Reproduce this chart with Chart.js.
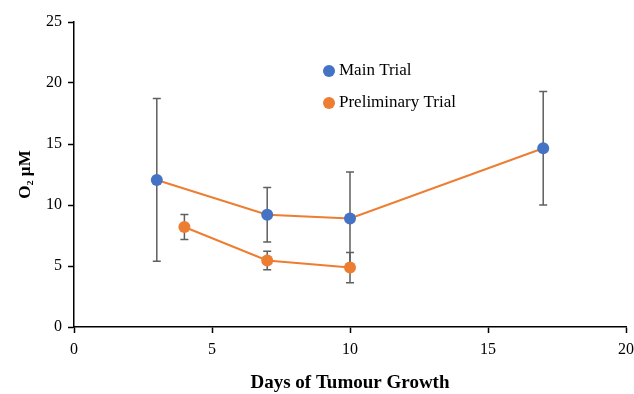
<!DOCTYPE html>
<html>
<head>
<meta charset="utf-8">
<script src="https://cdn.jsdelivr.net/npm/chart.js@4"></script>
<style>
  html, body { margin: 0; padding: 0; background: #fff; }
  #wrap { width: 634px; height: 394px; }
</style>
</head>
<body>
<div id="wrap"><canvas id="myChart" width="634" height="394"></canvas></div>
<script>
// data
var mainDays = [3, 7, 10, 17];
var mainO2 = [12.05, 9.2, 8.9, 14.65];
var mainErr = [6.67, 2.24, 3.8, 4.65];

var prelimDays = [4, 7, 10];
var prelimO2 = [8.2, 5.45, 4.87];
var prelimErr = [1.02, 0.75, 1.24];

var xTicks = [0, 5, 10, 15, 20];
var yTicks = [0, 5, 10, 15, 20, 25];

var blue = '#4472C4';
var orange = '#ED7D31';
var serif = "'Liberation Serif', 'Times New Roman', serif";

function pts(xs, ys) {
    return xs.map(function (x, i) { return { x: x, y: ys[i] }; });
}

// error bars, drawn under the markers
var errorBars = {
    id: 'errorBars',
    beforeDatasetsDraw: function (chart) {
        var ctx = chart.ctx;
        var xs = chart.scales.x, ys = chart.scales.y;
        var sets = [[mainDays, mainO2, mainErr], [prelimDays, prelimO2, prelimErr]];
        ctx.save();
        ctx.strokeStyle = '#5f5f5f';
        ctx.lineWidth = 1.5;
        sets.forEach(function (s) {
            s[0].forEach(function (d, i) {
                var px = xs.getPixelForValue(d);
                var top = ys.getPixelForValue(s[1][i] + s[2][i]);
                var bot = ys.getPixelForValue(s[1][i] - s[2][i]);
                ctx.beginPath();
                ctx.moveTo(px, top); ctx.lineTo(px, bot);
                ctx.moveTo(px - 4, top); ctx.lineTo(px + 4, top);
                ctx.moveTo(px - 4, bot); ctx.lineTo(px + 4, bot);
                ctx.stroke();
            });
        });
        ctx.restore();
    }
};

// legend placed inside the plot like the original
var floatLegend = {
    id: 'floatLegend',
    afterDraw: function (chart) {
        var ctx = chart.ctx;
        var items = [['Main Trial', blue, 71], ['Preliminary Trial', orange, 103]];
        ctx.save();
        ctx.font = '17px ' + serif;
        ctx.textBaseline = 'middle';
        items.forEach(function (it) {
            ctx.fillStyle = it[1];
            ctx.beginPath();
            ctx.arc(329, it[2], 6, 0, Math.PI * 2);
            ctx.fill();
            ctx.fillStyle = '#000';
            ctx.fillText(it[0], 339, it[2]);
        });
        ctx.restore();
    }
};

var ctx = document.getElementById('myChart').getContext('2d');
var chart = new Chart(ctx, {
    type: 'scatter',
    data: {
        datasets: [{
            label: 'Main Trial',
            data: pts(mainDays, mainO2),
            showLine: true,
            borderColor: orange,
            borderWidth: 2,
            pointBackgroundColor: blue,
            pointBorderColor: blue,
            pointRadius: 6,
            pointBorderWidth: 0
        }, {
            label: 'Preliminary Trial',
            data: pts(prelimDays, prelimO2),
            showLine: true,
            borderColor: orange,
            borderWidth: 2,
            pointBackgroundColor: orange,
            pointBorderColor: orange,
            pointRadius: 6,
            pointBorderWidth: 0
        }]
    },
    options: {
        responsive: false,
        animation: false,
        layout: { padding: { left: 0, top: 22, right: 8, bottom: 0 } },
        plugins: { legend: { display: false }, tooltip: { enabled: false } },
        scales: {
            x: {
                type: 'linear', min: 0, max: 20,
                afterBuildTicks: function (s) { s.ticks = xTicks.map(function (v) { return { value: v }; }); },
                afterFit: function (s) { s.height = 67; s.paddingRight = 0; s.paddingLeft = 0; },
                grid: { drawOnChartArea: false, tickLength: 6, color: '#000', tickWidth: 1.5 },
                border: { color: '#000', width: 1.5 },
                ticks: { color: '#000', font: { family: serif, size: 16 }, padding: 7, maxRotation: 0 },
                title: {
                    display: true, text: 'Days of Tumour Growth', color: '#000',
                    font: { family: serif, size: 19, weight: 'bold' },
                    padding: { top: 0, bottom: 0 }
                }
            },
            y: {
                type: 'linear', min: 0, max: 25,
                afterBuildTicks: function (s) { s.ticks = yTicks.map(function (v) { return { value: v }; }); },
                afterFit: function (s) { s.width = 74; s.paddingTop = 0; s.paddingBottom = 0; },
                grid: { drawOnChartArea: false, tickLength: 6, color: '#000', tickWidth: 1.5 },
                border: { color: '#000', width: 1.5 },
                ticks: { color: '#000', font: { family: serif, size: 16 }, padding: 6 },
                title: {
                    display: true, text: 'O\u2082 \u00B5M', color: '#000',
                    font: { family: serif, size: 17, weight: 'bold' },
                    padding: { top: 15, bottom: 0 }
                }
            }
        }
    },
    plugins: [errorBars, floatLegend]
});
</script>
</body>
</html>
